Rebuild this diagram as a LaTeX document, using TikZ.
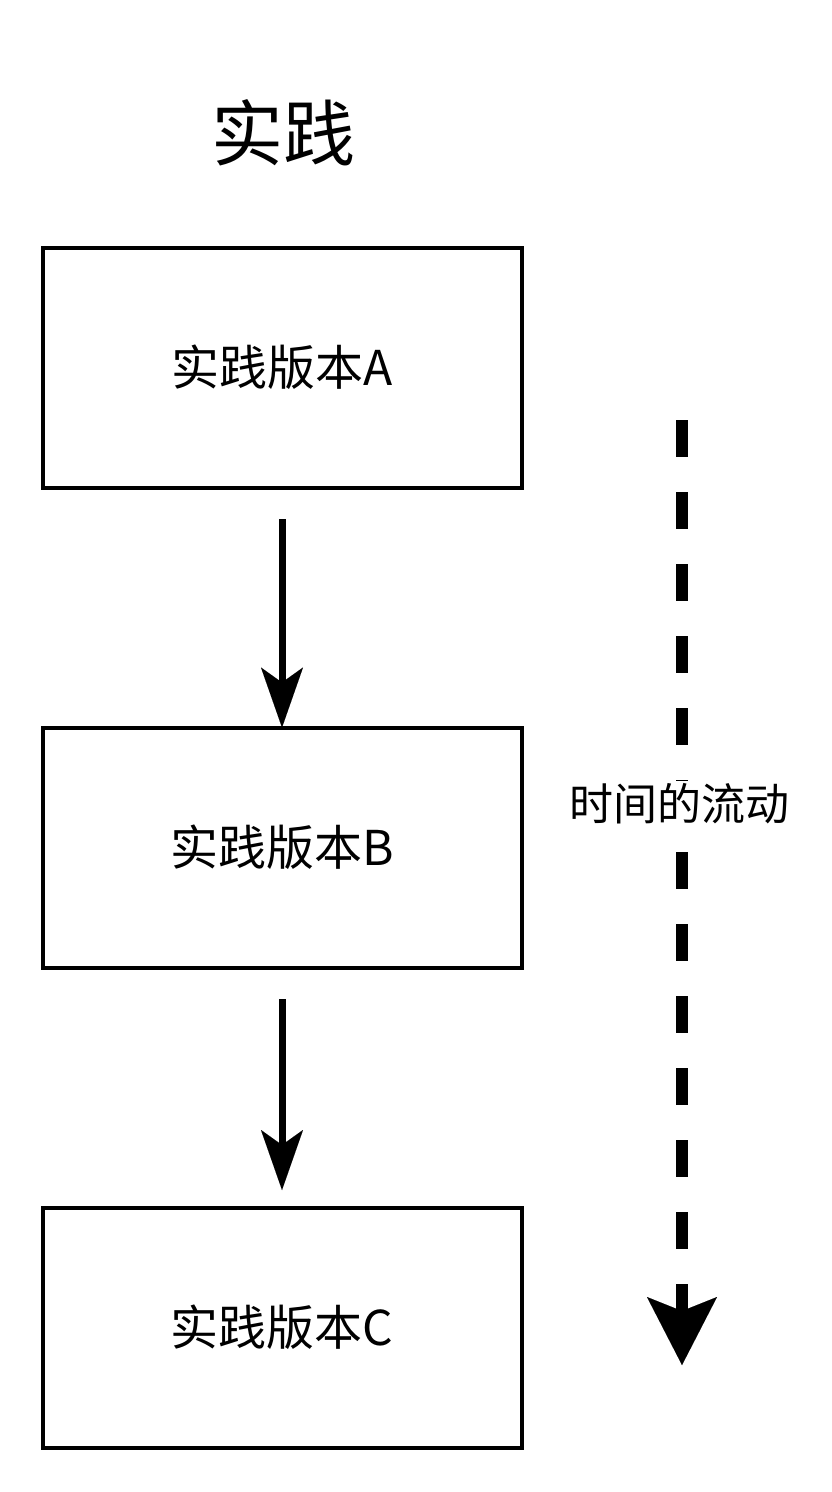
\documentclass[tikz,border=0pt]{standalone}
\usepackage{fontspec}
\setmainfont{Noto Sans CJK SC}
\usetikzlibrary{arrows.meta}
\tikzset{
  verbox/.style={draw=black, line width=4pt, minimum width=479pt, minimum height=240pt,
    inner sep=0pt, outer sep=0pt, font=\fontsize{48}{56}\selectfont},
  flowarrow/.style={line width=7pt, -{Stealth[length=60pt, width=42pt, inset=15pt, line width=0.01pt]}},
  timearrow/.style={line width=12pt, dash pattern=on 37pt off 35pt,
    -{Stealth[length=68pt, width=70pt, inset=14pt, line width=0.01pt]}},
  timelabel/.style={fill=white, inner sep=3pt, font=\fontsize{44}{52}\selectfont},
}
\begin{document}
\begin{tikzpicture}[x=1pt, y=-1pt]
  \useasboundingbox (0,0) rectangle (832,1492);
  \node[font=\fontsize{72}{84}\selectfont, inner sep=0pt] (title) at (283,133) {实践};
  \node[verbox] (a) at (282,367.5) {实践版本A};
  \node[verbox] (b) at (282,847.5) {实践版本B};
  \node[verbox] (c) at (282,1327.5) {实践版本C};
  \draw[flowarrow, shorten <=31.5pt] (a.south) -- (b.north);
  \draw[flowarrow, shorten <=31.5pt, shorten >=17.5pt] (b.south) -- (c.north);
  \coordinate (ttop) at (682,420);
  \coordinate (tbot) at (682,1365);
  \draw[timearrow] (ttop) -- (tbot);
  \node[timelabel] (tl) at (679,804) {时间的流动};
\end{tikzpicture}
\end{document}
